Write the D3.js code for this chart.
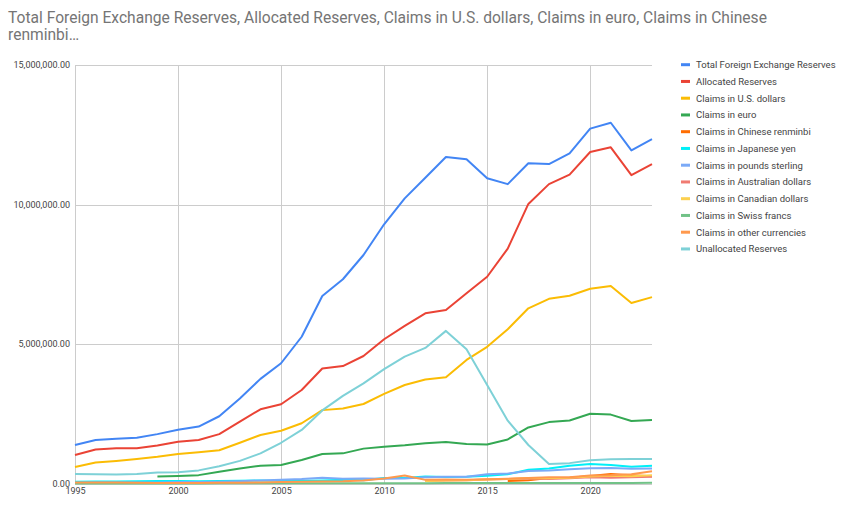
<!DOCTYPE html>
<html><head><meta charset="utf-8">
<script src="https://cdn.jsdelivr.net/npm/d3@7"></script>
<style>body{margin:0;background:#fff}svg{display:block}</style>
</head><body>
<svg id="chart" width="850" height="512"></svg>
<script>
const years = d3.range(1995, 2024);
const seriesNames = ["Total Foreign Exchange Reserves","Allocated Reserves","Claims in U.S. dollars","Claims in euro","Claims in Chinese renminbi","Claims in Japanese yen","Claims in pounds sterling","Claims in Australian dollars","Claims in Canadian dollars","Claims in Swiss francs","Claims in other currencies","Unallocated Reserves"];
const colors = ["#4285f4","#ea4335","#fbbc04","#34a853","#ff6d01","#00f0f8","#7baaf7","#f07b72","#fcd04f","#71c287","#ff994d","#7ed1d7"];
// values in millions of USD, 1995..2023 (null = no data)
const totalReserves = [1380000,1560000,1600000,1640000,1770000,1930000,2040000,2410000,3050000,3750000,4310000,5260000,6720000,7320000,8190000,9290000,10220000,10960000,11700000,11620000,10940000,10730000,11480000,11450000,11830000,12720000,12930000,11940000,12340000];
const allocated = [1020000,1220000,1260000,1260000,1360000,1500000,1560000,1770000,2220000,2660000,2840000,3350000,4120000,4210000,4570000,5170000,5650000,6100000,6220000,6820000,7410000,8420000,10020000,10730000,11070000,11880000,12050000,11050000,11450000];
const usd = [590000,750000,810000,880000,960000,1060000,1120000,1190000,1460000,1740000,1890000,2160000,2630000,2690000,2850000,3210000,3530000,3730000,3810000,4430000,4900000,5530000,6280000,6620000,6730000,6980000,7080000,6470000,6680000];
const eur = [null,null,null,null,250000,270000,300000,420000,540000,640000,660000,840000,1060000,1080000,1250000,1320000,1370000,1440000,1490000,1420000,1400000,1580000,2010000,2200000,2260000,2500000,2470000,2240000,2280000];
const cny = [null,null,null,null,null,null,null,null,null,null,null,null,null,null,null,null,null,null,null,null,null,90000,120000,200000,210000,270000,340000,300000,260000];
const jpy = [60000,70000,70000,80000,90000,90000,80000,90000,100000,110000,100000,100000,110000,130000,120000,200000,200000,250000,230000,240000,280000,330000,490000,540000,640000,700000,660000,600000,640000];
const gbp = [30000,40000,40000,40000,40000,50000,50000,60000,80000,110000,130000,160000,210000,170000,180000,170000,180000,220000,240000,240000,330000,360000,450000,470000,510000,550000,560000,530000,540000];
const aud = [null,null,null,null,null,null,null,null,null,null,null,null,null,null,null,null,null,90000,110000,120000,140000,160000,180000,160000,190000,220000,210000,220000,240000];
const cad = [null,null,null,null,null,null,null,null,null,null,null,null,null,null,null,null,null,90000,110000,120000,140000,160000,200000,190000,210000,250000,280000,260000,300000];
const chf = [3000,3000,4000,4000,3000,4000,4000,5000,5000,6000,6000,8000,12000,10000,12000,12000,9000,13000,17000,17000,17000,15000,18000,15000,16000,19000,19000,22000,25000];
const other = [40000,40000,35000,30000,20000,20000,20000,25000,30000,40000,50000,60000,70000,80000,110000,180000,290000,130000,140000,130000,150000,170000,200000,220000,220000,290000,300000,330000,440000];
const unallocated = [340000,330000,320000,340000,390000,400000,470000,620000,810000,1080000,1460000,1920000,2620000,3140000,3590000,4100000,4550000,4860000,5470000,4810000,3530000,2250000,1380000,700000,730000,830000,870000,880000,880000];
const seriesValues = [totalReserves,allocated,usd,eur,cny,jpy,gbp,aud,cad,chf,other,unallocated];
const xTicks = [1995,2000,2005,2010,2015,2020];
const yTicks = [0,5000000,10000000,15000000];
const titleLines = ["Total Foreign Exchange Reserves, Allocated Reserves, Claims in U.S. dollars, Claims in euro, Claims in Chinese","renminbi…"];

const svg = d3.select("#chart");
const font = "Roboto, Arial, sans-serif";
const x = d3.scaleLinear().domain([1995,2023]).range([75,652]);
const y = d3.scaleLinear().domain([0,15000000]).range([483.5,65]);

// title
const t = svg.append("text").attr("font-family",font).attr("font-size",15.6).attr("fill","#757575");
titleLines.forEach((l,i)=>t.append("tspan").attr("x",8).attr("y",23+i*16.5).text(l));

// grid
const g = svg.append("g");
g.selectAll(".hg").data(yTicks).join("line")
  .attr("x1",75).attr("x2",652).attr("y1",d=>Math.round(y(d))+0.5).attr("y2",d=>Math.round(y(d))+0.5)
  .attr("stroke","#cccccc").attr("stroke-width",1);
g.selectAll(".vg").data(xTicks).join("line")
  .attr("y1",65).attr("y2",484).attr("x1",d=>Math.round(x(d))+0.5).attr("x2",d=>Math.round(x(d))+0.5)
  .attr("stroke","#cccccc").attr("stroke-width",1);

// axes
const fmt = d3.format(",.2f");
const yAxis = d3.axisLeft(y).tickValues(yTicks).tickFormat(fmt).tickSize(0).tickPadding(5);
const ya = svg.append("g").attr("transform","translate(75,0)").call(yAxis);
ya.select(".domain").remove();
ya.selectAll("text").attr("font-family",font).attr("font-size",9).attr("fill","#444");
const xAxis = d3.axisBottom(x).tickValues(xTicks).tickFormat(d3.format("d")).tickSize(0).tickPadding(4);
const xa = svg.append("g").attr("transform","translate(0,484)").call(xAxis);
xa.select(".domain").remove();
xa.selectAll("text").attr("font-family",font).attr("font-size",9).attr("fill","#444");

// lines
const line = d3.line().defined(d=>d.v!=null).x(d=>x(d.year)).y(d=>y(d.v));
seriesValues.forEach((vals,i)=>{
  svg.append("path").datum(years.map((yr,j)=>({year:yr,v:vals[j]})))
    .attr("fill","none").attr("stroke",colors[i]).attr("stroke-width",2)
    .attr("stroke-linejoin","round").attr("d",line);
});

// legend
const lg = svg.append("g");
seriesNames.forEach((n,i)=>{
  const yy = 64.7 + i*16.75;
  lg.append("rect").attr("x",681).attr("y",yy-1.5).attr("width",9).attr("height",3).attr("fill",colors[i]);
  lg.append("text").attr("x",696).attr("y",yy+3.3).attr("font-family",font).attr("font-size",9.5).attr("fill","#444").text(n);
});
</script>
</body></html>
